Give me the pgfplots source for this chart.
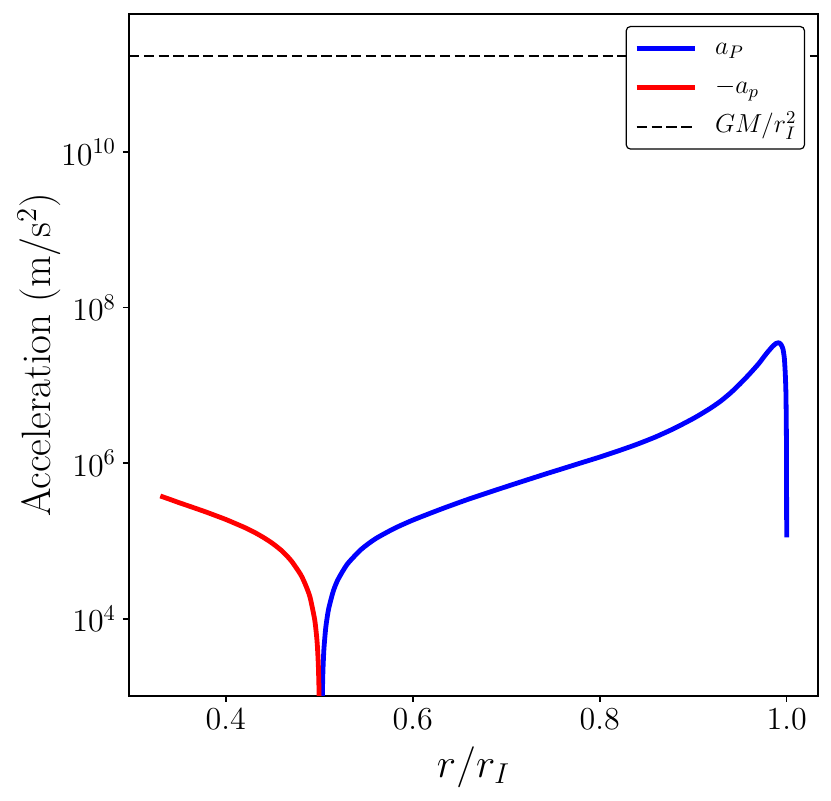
\documentclass[border=0pt]{standalone}
\usepackage{fix-cm}
\usepackage{pgfplots}
\pgfplotsset{compat=1.18}
\pgfplotstableread{
x y
0.33 3.8e5
0.34 3.45e5
0.35 3.12e5
0.36 2.84e5
0.37 2.58e5
0.38 2.34e5
0.39 2.11e5
0.40 1.90e5
0.41 1.69e5
0.42 1.50e5
0.43 1.31e5
0.44 1.12e5
0.45 9.35e4
0.46 7.5e4
0.47 5.6e4
0.48 3.74e4
0.485 2.8e4
0.49 1.93e4
0.495 1.0e4
0.497 6.3e3
0.498 4.5e3
0.499 2.6e3
0.4997 1.3e3
0.5 744
}\redtab
\pgfplotstableread{
x y
0.5031 558
0.5035 1.3e3
0.504 2.23e3
0.505 4.1e3
0.507 7.8e3
0.51 1.34e4
0.515 2.27e4
0.52 3.2e4
0.53 5.06e4
0.545 7.85e4
0.56 1.07e5
0.58 1.45e5
0.60 1.86e5
0.63 2.57e5
0.66 3.47e5
0.70 5.01e5
0.74 7.16e5
0.76 8.51e5
0.78 1.012e6
0.80 1.202e6
0.82 1.445e6
0.84 1.758e6
0.86 2.188e6
0.88 2.818e6
0.90 3.758e6
0.91 4.416e6
0.92 5.248e6
0.93 6.383e6
0.94 8.035e6
0.95 1.047e7
0.96 1.396e7
0.97 1.905e7
0.978 2.541e7
0.984 3.090e7
0.9885 3.467e7
0.9915 3.548e7
0.994 3.35e7
0.996 2.95e7
0.9975 2.24e7
0.9985 1.41e7
0.9992 7.94e6
0.9996 3.16e6
0.9998 1.26e6
1.0 1.12e5
}\bluetab
\begin{document}
\begin{tikzpicture}
\begin{axis}[
  name=ax,
  scale only axis, width=344.5pt, height=341pt,
  xmin=0.2965, xmax=1.0335,
  ymode=log, ymin=1023, ymax=5.94e11,
  xtick={0.4,0.6,0.8,1.0},
  xticklabels={$0.4$,$0.6$,$0.8$,$1.0$},
  ytick={1e4,1e6,1e8,1e10},
  yminorticks=false, xminorticks=false,
  tick align=outside, major tick length=3pt,
  tick pos=left,
  tick style={black, line width=0.8pt},
  axis line style={line width=0.8pt},
  ticklabel style={font=\fontsize{16}{19}\selectfont},
  label style={font=\fontsize{20.5}{24}\selectfont},
  xlabel={$r/r_I$},
  ylabel={Acceleration (m/s$^2$)},
  xlabel style={at={(axis description cs:0.5,-0.104)}, anchor=center},
  ylabel style={at={(axis description cs:-0.1300,0.5)}, anchor=center},
  legend image code/.code={\draw[#1] (0pt,0pt) -- (29pt,0pt);},
  legend cell align=left,
  legend style={at={(rel axis cs:1,1)}, anchor=north east, xshift=-6.5pt, yshift=-6pt,
    draw=black, line width=0.6pt, rounded corners=2pt, fill=white,
    font=\fontsize{13}{15}\selectfont,
    inner xsep=4pt, inner ysep=3pt, row sep=3.6pt, column sep=9pt,
    nodes={text height=9pt, text depth=3pt, inner ysep=2pt, inner xsep=0pt}},
]
\addplot[blue, line width=2.4pt, line join=round, smooth, tension=0.4] table[x=x,y=y] {\bluetab};
\addlegendentry{$a_P$}
\addplot[red, line width=2.4pt, line join=round, smooth, tension=0.4] table[x=x,y=y] {\redtab};
\addlegendentry{$-a_p$}
\addplot[black, line width=1.1pt, dash pattern=on 5.2pt off 2.2pt] coordinates {(0.2965,1.71e11) (1.0335,1.71e11)};
\addlegendentry{$GM/r_I^2$}
\end{axis}
\pgfresetboundingbox
\path ([shift={(-64.5pt,-52.5pt)}]ax.south west) rectangle ([shift={(6.5pt,7pt)}]ax.north east);
\end{tikzpicture}
\end{document}
